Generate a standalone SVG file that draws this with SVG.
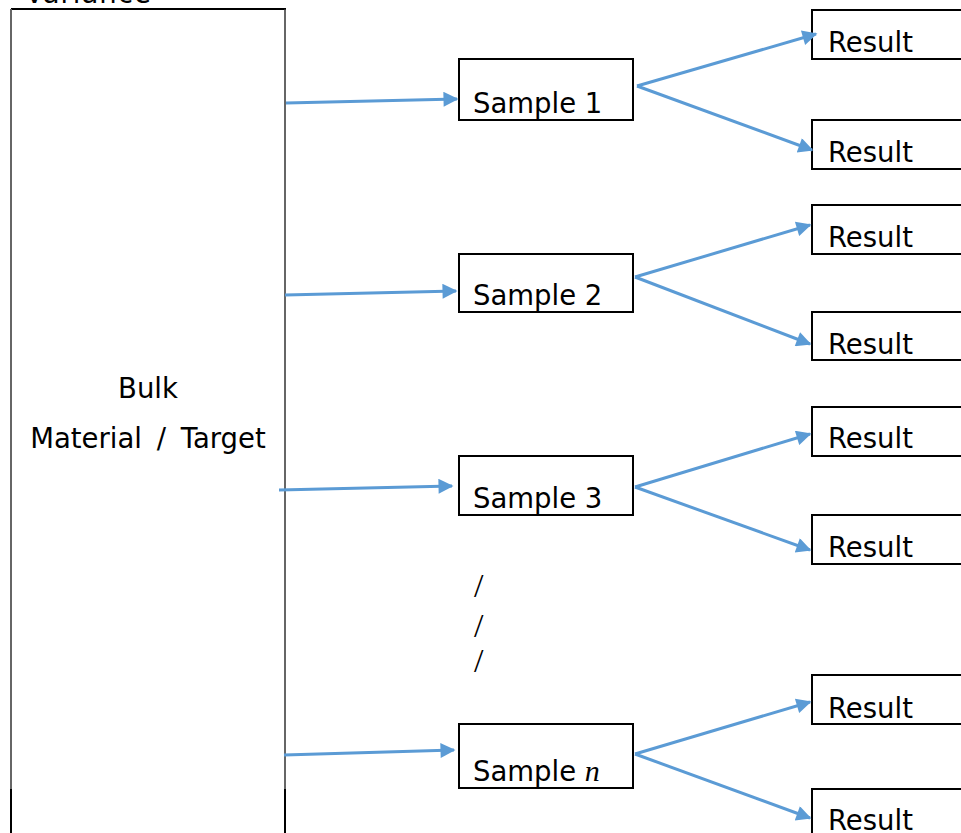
<svg xmlns="http://www.w3.org/2000/svg" width="961" height="833" viewBox="0 0 961 833">
  <style>
    .box { fill: #ffffff; stroke: #000000; stroke-width: 2; }
    .lbl { font-family: "DejaVu Sans", "Liberation Sans", sans-serif; font-size: 27.5px; fill: #000000; }
    .conn { stroke: #5b9bd5; stroke-width: 3; fill: none; marker-end: url(#arrow); }
    .dots { font-family: "Liberation Serif", serif; font-size: 34px; fill: #000000; }
  </style>
  <defs>
    <marker id="arrow" viewBox="0 0 10 10" refX="9" refY="5" markerWidth="6" markerHeight="5" markerUnits="strokeWidth" orient="auto">
      <path d="M0,0 L10,5 L0,10 Z" fill="#5b9bd5"/>
    </marker>
  </defs>
  <rect width="961" height="833" fill="#ffffff"/>

  <!-- heading partly above the top edge -->
  <text class="lbl" x="25" y="3" letter-spacing="1">Variance</text>

  <!-- bulk material column (open at the bottom) -->
  <g id="bulk">
    <line x1="11" y1="9" x2="286" y2="9" stroke="#000" stroke-width="2"/>
    <line x1="11" y1="9" x2="11" y2="789" stroke="#666" stroke-width="2"/>
    <line x1="11" y1="789" x2="11" y2="833" stroke="#000" stroke-width="2"/>
    <line x1="285" y1="9" x2="285" y2="789" stroke="#333" stroke-width="1.5"/>
    <line x1="285" y1="789" x2="285" y2="833" stroke="#000" stroke-width="2"/>
    <text class="lbl" x="148" y="398" text-anchor="middle">Bulk</text>
    <text class="lbl" x="148" y="448" text-anchor="middle" word-spacing="6">Material / Target</text>
  </g>

  <!-- samples -->
  <g id="sample1"><rect class="box" x="459" y="59" width="174" height="61"/><text class="lbl" x="473" y="113">Sample 1</text></g>
  <g id="sample2"><rect class="box" x="459" y="254" width="174" height="58"/><text class="lbl" x="473" y="305">Sample 2</text></g>
  <g id="sample3"><rect class="box" x="459" y="456" width="174" height="59"/><text class="lbl" x="473" y="508">Sample 3</text></g>
  <g id="samplen"><rect class="box" x="459" y="724" width="174" height="64"/><text class="lbl" x="473" y="781">Sample <tspan font-family="Liberation Serif, serif" font-style="italic" font-size="30">n</tspan></text></g>

  <!-- ellipsis between samples -->
  <g id="ellipsis">
    <text class="dots" x="474" y="597">/</text>
    <text class="dots" x="474" y="637">/</text>
    <text class="dots" x="474" y="672">/</text>
  </g>

  <!-- results (right side runs past the edge) -->
  <g id="result1"><rect class="box" x="812" y="10" width="160" height="49"/><text class="lbl" x="828" y="52">Result</text></g>
  <g id="result2"><rect class="box" x="812" y="120" width="160" height="49"/><text class="lbl" x="828" y="162">Result</text></g>
  <g id="result3"><rect class="box" x="812" y="205" width="160" height="49"/><text class="lbl" x="828" y="247">Result</text></g>
  <g id="result4"><rect class="box" x="812" y="312" width="160" height="48"/><text class="lbl" x="828" y="354">Result</text></g>
  <g id="result5"><rect class="box" x="812" y="407" width="160" height="49"/><text class="lbl" x="828" y="448">Result</text></g>
  <g id="result6"><rect class="box" x="812" y="515" width="160" height="49"/><text class="lbl" x="828" y="557">Result</text></g>
  <g id="result7"><rect class="box" x="812" y="675" width="160" height="49"/><text class="lbl" x="828" y="718">Result</text></g>
  <g id="result8"><rect class="box" x="812" y="789" width="160" height="60"/><text class="lbl" x="828" y="830">Result</text></g>

  <!-- connectors -->
  <g id="connectors">
    <line class="conn" x1="286" y1="103" x2="457" y2="99"/>
    <line class="conn" x1="285" y1="295" x2="456" y2="291"/>
    <line class="conn" x1="279" y1="490" x2="452" y2="486"/>
    <line class="conn" x1="284" y1="755" x2="454" y2="750"/>

    <line class="conn" x1="637" y1="86" x2="816" y2="34"/>
    <line class="conn" x1="637" y1="86" x2="812" y2="150"/>
    <line class="conn" x1="635" y1="277" x2="810" y2="225"/>
    <line class="conn" x1="635" y1="277" x2="810" y2="344"/>
    <line class="conn" x1="635" y1="487" x2="810" y2="434"/>
    <line class="conn" x1="635" y1="487" x2="810" y2="550"/>
    <line class="conn" x1="635" y1="754" x2="810" y2="702"/>
    <line class="conn" x1="635" y1="754" x2="810" y2="818"/>
  </g>
</svg>
